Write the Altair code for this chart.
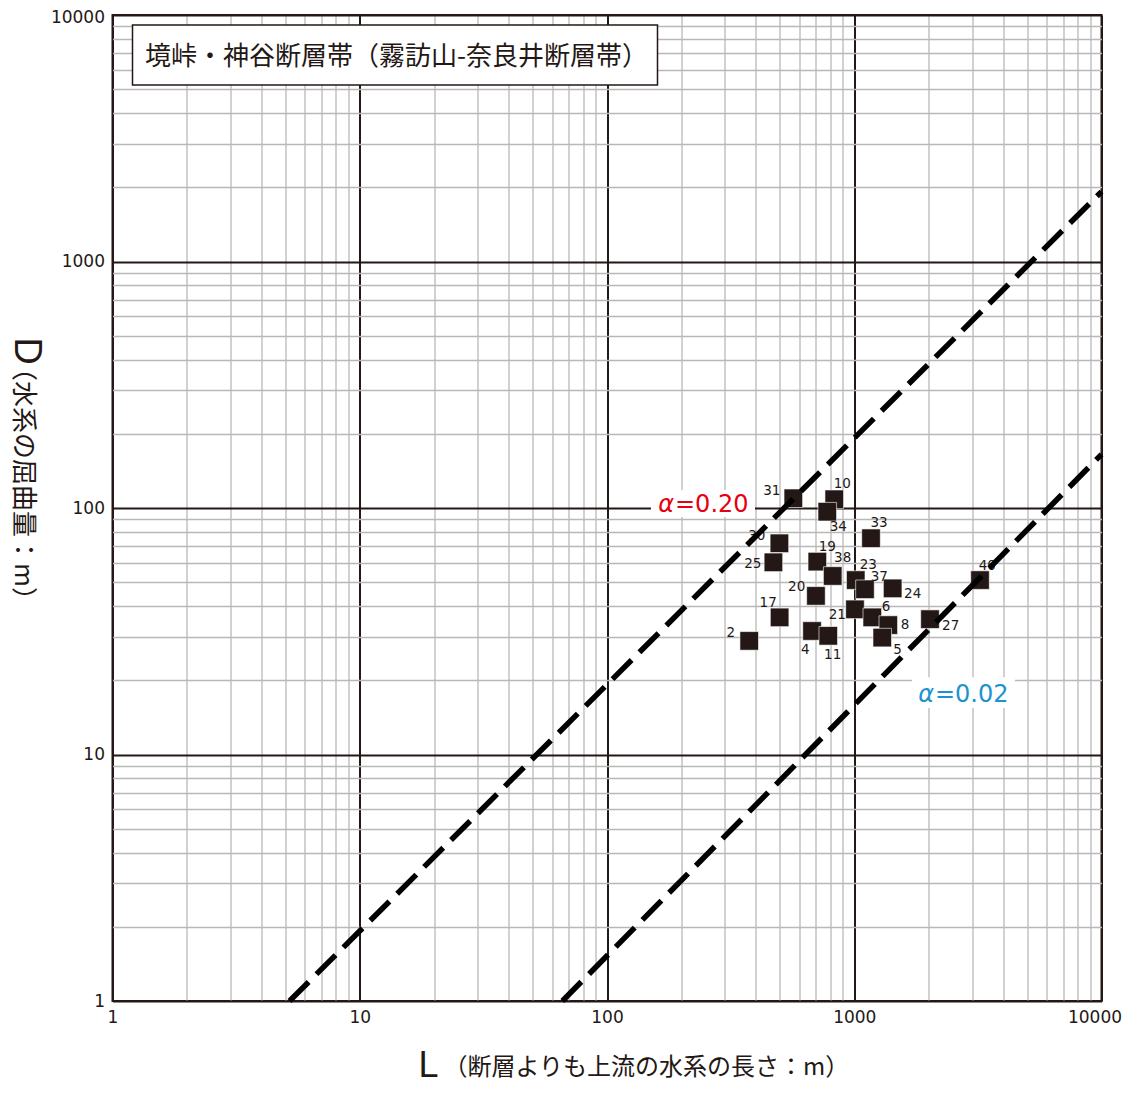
import altair as alt
import pandas as pd

# ---------------- data ----------------
ids = ["31", "10", "34", "33", "30", "25", "19", "38", "23", "37", "24",
       "20", "17", "21", "6", "8", "5", "27", "40", "4", "11", "2"]
L_vals = [567, 830, 778, 1169, 498, 471, 709, 818, 1014, 1105, 1430,
          700, 499, 1007, 1183, 1373, 1298, 2025, 3226, 675, 785, 376]
D_vals = [109.5, 108.5, 96.6, 75.4, 71.9, 60.2, 60.6, 53.0, 51.0, 46.8, 47.2,
          44.0, 36.0, 38.8, 36.0, 33.5, 29.8, 35.4, 51.0, 31.7, 30.3, 28.9]

# label offsets from square centre (pixels)
lab_dx = [-21.6, 8, 11, 8, -22.6, -20.6, 10, 10, 12.6, 14.3, 20,
          -19.3, -11.4, -17.7, 13.7, 16.7, 15.4, 20.7, 7.3, -6.7, 4.4, -18.3]
lab_dy = [-7.6, -15.3, 15, -15.6, -7.6, 1.7, -15, -17.7, -15, -12.6, 5.7,
          -9.3, -14.6, 5.7, -10.6, 0, 12.3, 6.4, -14.3, 19, 19.3, -8.3]

# reference lines (end points)
line_names = ["a020", "a020", "a002", "a002"]
line_L = [5.2, 10000, 66, 10000]
line_D = [1, 1920, 1, 165]

# alpha annotations: italic symbol + upright value, split at L_split
alpha_sym = ["α", "α"]
alpha_val = ["=0.20", "=0.02"]
alpha_L_split = [188.4, 2121]
alpha_D = [102.9, 17.43]
alpha_colors = ["#e50012", "#1d92d0"]
alpha_box_L1 = [150.6, 1712]
alpha_box_L2 = [396.8, 4467]
alpha_box_D1 = [91.9, 15.44]
alpha_box_D2 = [118.3, 20.6]

major_vals = [1, 10, 100, 1000, 10000]
tick_vals = [m * 10 ** k for k in range(4) for m in range(1, 10)] + [10000]

box_title = "境峠・神谷断層帯（霧訪山-奈良井断層帯）"
x_big = "L"
x_rest = "（断層よりも上流の水系の長さ：m）"
y_big = "D"
y_rest = "（水系の屈曲量：m）"

# ---------------- layout ----------------
W, H = 989, 986
ppd_x, ppd_y = W / 4, H / 4
DARK = "#231815"

pts = pd.DataFrame({"id": ids, "L": L_vals, "D": D_vals,
                    "dx": lab_dx, "dy": lab_dy})
pts["labL"] = pts["L"] * 10 ** (pts["dx"] / ppd_x)
pts["labD"] = pts["D"] * 10 ** (-pts["dy"] / ppd_y)

lines = pd.DataFrame({"g": line_names, "L": line_L, "D": line_D})
alphas = pd.DataFrame({"s": alpha_sym, "v": alpha_val, "L": alpha_L_split,
                       "D": alpha_D, "c": alpha_colors,
                       "L1": alpha_box_L1, "L2": alpha_box_L2,
                       "D1": alpha_box_D1, "D2": alpha_box_D2})

major_test = "indexof([1,10,100,1000,10000], datum.value) >= 0"
label_expr = major_test + " ? format(datum.value, 'd') : ''"


def make_axis(is_x):
    if is_x:
        off = alt.condition("datum.value == 10000", alt.value(-7), alt.value(0))
    else:
        off = alt.condition("datum.value == 10000", alt.value(2), alt.value(0))
    return alt.Axis(values=tick_vals, labelExpr=label_expr, title=None,
                    grid=True,
                    gridColor=alt.condition(major_test, alt.value(DARK), alt.value("#b8b8b8")),
                    gridWidth=alt.condition(major_test, alt.value(2), alt.value(1.3)),
                    ticks=False, domain=False, labelFont="DejaVu Sans",
                    labelFontSize=17, labelColor=DARK, labelPadding=8,
                    labelFlush=False, labelOverlap=False, labelOffset=off)


xs = alt.Scale(type="log", domain=[1, 10000], nice=False)
ys = alt.Scale(type="log", domain=[1, 10000], nice=False)

base = alt.Chart(pts)

squares = base.mark_point(shape="square", filled=True, size=345, color=DARK,
                          opacity=1, stroke="white", strokeWidth=0.6).encode(
    x=alt.X("L:Q", scale=xs, axis=make_axis(True)),
    y=alt.Y("D:Q", scale=ys, axis=make_axis(False)),
)

labels = base.mark_text(font="DejaVu Sans", fontSize=13.5, color=DARK,
                        align="center", baseline="middle").encode(
    x=alt.X("labL:Q", scale=xs), y=alt.Y("labD:Q", scale=ys), text="id:N")

dash_lines = alt.Chart(lines).mark_line(color="black", strokeWidth=5.5,
                                        strokeDash=[27, 11]).encode(
    x=alt.X("L:Q", scale=xs), y=alt.Y("D:Q", scale=ys), detail="g:N")

alpha_boxes = alt.Chart(alphas).mark_rect(color="white").encode(
    x=alt.X("L1:Q", scale=xs), x2="L2:Q",
    y=alt.Y("D1:Q", scale=ys), y2="D2:Q")

alpha_sym_text = alt.Chart(alphas).mark_text(
    font="DejaVu Sans", fontSize=24, fontStyle="italic",
    align="right", baseline="middle", dx=-1).encode(
    x=alt.X("L:Q", scale=xs), y=alt.Y("D:Q", scale=ys), text="s:N",
    color=alt.Color("c:N", scale=None))

alpha_val_text = alt.Chart(alphas).mark_text(
    font="DejaVu Sans", fontSize=24, align="left", baseline="middle").encode(
    x=alt.X("L:Q", scale=xs), y=alt.Y("D:Q", scale=ys), text="v:N",
    color=alt.Color("c:N", scale=None))

box = alt.Chart(pd.DataFrame({"t": [box_title]})).mark_rect(
    fill="white", stroke=DARK, strokeWidth=1.5).encode(
    x=alt.value(20), x2=alt.value(545), y=alt.value(10), y2=alt.value(70))

box_text = alt.Chart(pd.DataFrame({"t": [box_title]})).mark_text(
    font="Noto Sans CJK JP", fontSize=26, color=DARK, align="center",
    baseline="middle").encode(x=alt.value(284), y=alt.value(41.5), text="t:N")

xt_big = alt.Chart(pd.DataFrame({"t": [x_big]})).mark_text(
    font="Liberation Sans", fontSize=36, color=DARK, align="center",
    baseline="alphabetic").encode(x=alt.value(316), y=alt.value(1062), text="t:N")
xt_rest = alt.Chart(pd.DataFrame({"t": [x_rest]})).mark_text(
    font="Noto Sans CJK JP", fontSize=24, color=DARK, align="left",
    baseline="middle").encode(x=alt.value(331), y=alt.value(1053), text="t:N")

yt_big = alt.Chart(pd.DataFrame({"t": [y_big]})).mark_text(
    font="Liberation Sans", fontSize=38, color=DARK, align="center",
    baseline="middle", angle=90).encode(x=alt.value(-86.5), y=alt.value(336), text="t:N")
yt_rest = alt.Chart(pd.DataFrame({"t": [y_rest]})).mark_text(
    font="Noto Sans CJK JP", fontSize=26, color=DARK, align="left",
    baseline="middle", angle=90).encode(x=alt.value(-90), y=alt.value(340), text="t:N")

chart = alt.layer(
    squares, box, box_text, labels, dash_lines, alpha_boxes,
    alpha_sym_text, alpha_val_text,
    xt_big, xt_rest, yt_big, yt_rest
).properties(
    width=W, height=H,
    autosize=alt.AutoSizeParams(type="none"),
    padding={"left": 104.5, "top": 7, "right": 21, "bottom": 84},
).configure_view(stroke=DARK, strokeWidth=2)

chart.save("out.html", embed_options={"renderer": "svg", "actions": False})
